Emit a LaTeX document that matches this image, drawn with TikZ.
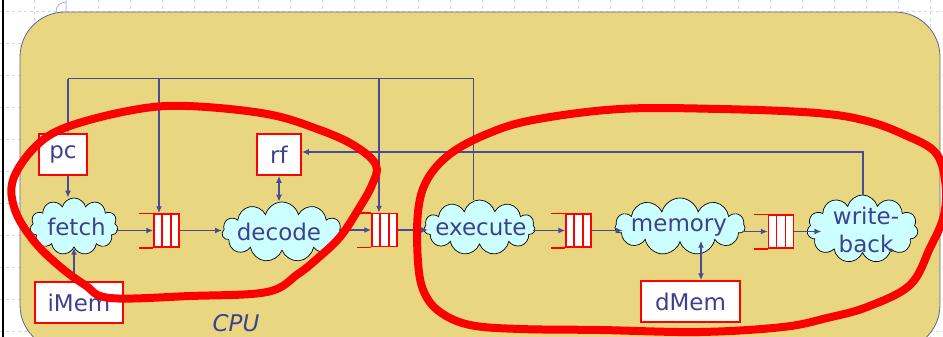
\documentclass[tikz,border=0pt]{standalone}
\usepackage{fontspec}
\setmainfont{DejaVu Sans}
\usetikzlibrary{shapes.symbols,arrows.meta,calc}
\definecolor{cpuyellow}{RGB}{233,214,128}
\definecolor{cpuedge}{RGB}{96,100,150}
\definecolor{txtblue}{RGB}{64,64,144}
\definecolor{lnblue}{RGB}{72,76,150}
\definecolor{cloudcyan}{RGB}{204,255,255}
\definecolor{gridblue}{RGB}{205,215,245}
\definecolor{penred}{RGB}{255,0,0}
\tikzset{
  txtst/.style={text=txtblue, inner sep=0pt, font=\fontsize{23}{28}\selectfont},
  regbox/.style={draw=penred, line width=1.5pt, fill=white, txtst},
  cld/.style={cloud, cloud puffs=11, cloud ignores aspect, draw=black, line width=0.7pt, fill=cloudcyan, inner sep=0pt},
  qbox/.style={draw=penred, line width=1.5pt, fill=white, minimum width=25pt, minimum height=33pt, inner sep=0pt},
  qline/.style={draw=penred, line width=1.5pt},
  ln/.style={draw=lnblue, line width=1pt},
  arr/.style={ln, line width=1.3pt, -{Latex[length=7pt,width=6pt]}},
  darr/.style={ln, line width=1.3pt, {Latex[length=7pt,width=6pt]}-{Latex[length=7pt,width=6pt]}},
  redpen/.style={draw=penred, line width=8pt, line cap=round, line join=round},
  gridln/.style={draw=gridblue, line width=0.8pt, dashed}
}
\newcommand{\myqueue}[3]{%
  \node[qbox] (#1) at (#2,#3) {};
  \draw[qline] (#1.north west) -- ++(-14,0) (#1.south west) -- ++(-14,0);
  \draw[qline] ($(#1.north west)!1/3!(#1.north east)$) -- ($(#1.south west)!1/3!(#1.south east)$)
               ($(#1.north west)!2/3!(#1.north east)$) -- ($(#1.south west)!2/3!(#1.south east)$);
}
\begin{document}
\begin{tikzpicture}[x=1pt,y=-1pt]
\useasboundingbox (0,0) rectangle (943,337);
% background grid
\foreach \gx in {34,66,...,930} \draw[gridln] (\gx,0) -- (\gx,337);
\foreach \gy in {11,43,...,337} \draw[gridln] (0,\gy) -- (943,\gy);
\draw[draw=gridblue!80!blue, line width=0.8pt] (56,12) .. controls (56,6) and (60,2) .. (66,2) -- (66,12);
\draw[line width=2pt] (2.5,0) -- (2.5,337);
% CPU
\draw[fill=cpuyellow, draw=cpuedge, line width=0.8pt, rounded corners=45pt] (20,12) rectangle (940,350);
\node[txtst, font=\fontsize{23}{28}\selectfont\itshape] (cpu) at (236,323) {CPU};
% registers / memories
\node[regbox, minimum width=48pt, minimum height=41pt] (pc) at (63,154.5) {pc};
\node[regbox, minimum width=44pt, minimum height=41pt] (rf) at (279,154.5) {rf};
\node[regbox, minimum width=88pt, minimum height=41pt] (iMem) at (79,302.5) {iMem};
\node[regbox, minimum width=99pt, minimum height=41pt] (dMem) at (690.5,301.5) {dMem};
% stages
\node[cld, minimum width=88pt, minimum height=57pt] (fetch) at (74,226.5) {};
\node[txtst] (fetcht) at (76.5,227) {fetch};
\node[cld, minimum width=120pt, minimum height=60pt] (decode) at (282,232) {};
\node[txtst] (decodet) at (279,232) {decode};
\node[cld, minimum width=111pt, minimum height=55pt] (execute) at (479.5,227.5) {};
\node[txtst] (executet) at (481,228) {execute};
\node[cld, minimum width=130pt, minimum height=57pt] (memory) at (680,226.5) {};
\node[txtst] (memoryt) at (679,227) {memory};
\node[cld, minimum width=111pt, minimum height=68pt] (wb) at (862.5,229) {};
\node[txtst, align=center] (wbt) at (866,230) {write-\\back};
% queues
\myqueue{q1}{166.5}{230.5}
\myqueue{q2}{384.5}{230}
\myqueue{q3}{578.5}{230.5}
\myqueue{q4}{781}{231.5}
% bus
\coordinate (busL) at (68,79);
\coordinate (busR) at (473,79);
\coordinate (b1) at (159,79);
\coordinate (b2) at (379,79);
\draw[ln] (execute.north -| busR) -- (busR) -- (busL);
\draw[arr] (busL) -- (busL |- pc.north);
\draw[arr] (b1) -- (b1 |- q1.north);
\draw[arr] (b2) -- (b2 |- q2.north);
\draw[arr] (pc.south -| busL) -- (fetch.north -| busL);
\draw[arr] (iMem.north -| fetch.south) -- (fetch.south);
\draw[darr] (rf.south) -- (rf.south |- decode.north);
\coordinate (mdx) at (701,0);
\draw[darr] (dMem.north -| mdx) -- ($(mdx |- memory.south)+(0,-2)$);
\coordinate (fbx) at (863,152);
\draw[arr] (wb.north -| fbx) -- (fbx) -- (fbx -| rf.east);
% pipeline
\draw[arr] ($(fetch.east |- q1)+(-2,0)$) -- (q1.west);
\draw[arr] (q1.east) -- (q1.east -| decode.west);
\draw[arr] ($(decode.east |- q2)+(-3,0)$) -- (q2.west);
\draw[arr] (q2.east) -- ($(q2.east -| execute.west)+(4,0)$);
\draw[arr] ($(execute.east |- q3)+(-2,0)$) -- (q3.west);
\draw[arr] (q3.east) -- ($(q3.east -| memory.west)+(8,0)$);
\draw[arr] ($(memory.east |- q4)+(-2,0)$) -- (q4.west);
\draw[arr] (q4.east) -- ($(q4.east -| wb.west)+(14,0)$);
% red annotations
\draw[redpen] plot[smooth cycle, tension=0.6] coordinates {
  (133,110) (187,106) (267,114) (320,130) (355,146) (376,165) (372,185) (358,210) (340,237)
  (318,258) (298,274) (267,292) (190,296) (110,298) (85,285) (58,265) (33,240) (15,210)
  (13,180) (35,147) (67,127)};
\draw[redpen] plot[smooth cycle, tension=0.6] coordinates {
  (533,120) (620,109) (720,109) (817,113) (867,121) (905,135) (935,152) (945,180) (944,215)
  (930,248) (910,285) (867,307) (827,318) (783,327) (700,332) (600,330) (520,329) (470,325)
  (440,312) (424,292) (418,262) (418,212) (427,180) (450,154) (487,134)};
\end{tikzpicture}
\end{document}
